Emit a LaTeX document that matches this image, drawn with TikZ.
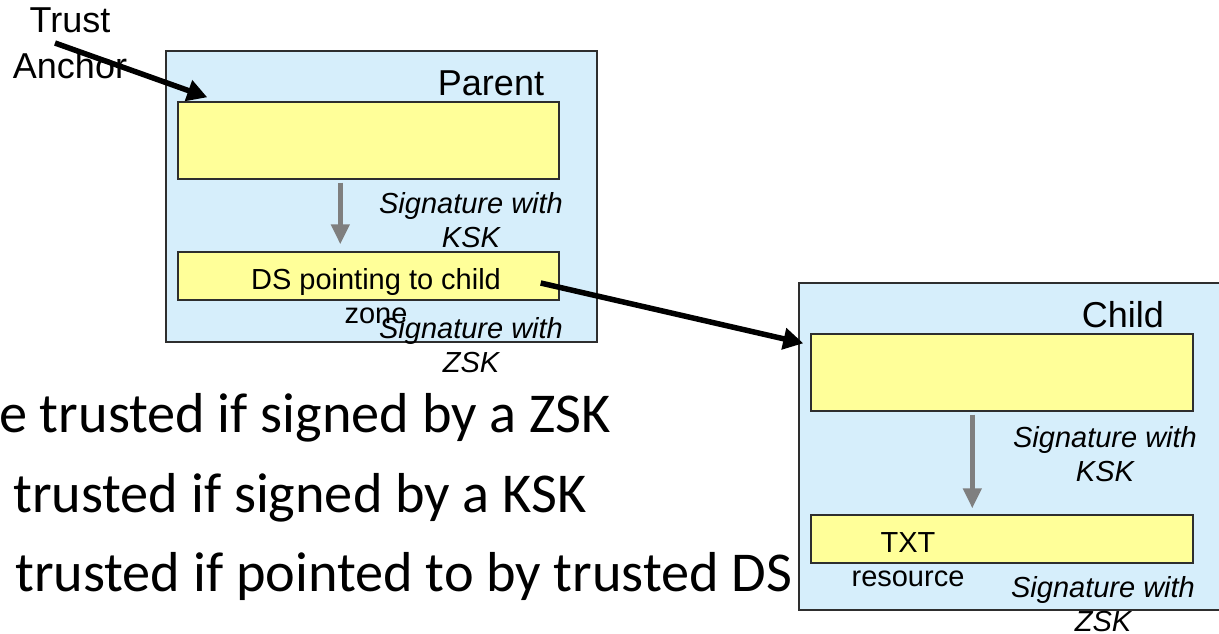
\documentclass[tikz,border=0pt]{standalone}
\usepackage{fontspec}
\setmainfont{Liberation Sans}
\newfontfamily\bodyfont{Carlito}
\usetikzlibrary{arrows.meta,calc}

\definecolor{zonefill}{HTML}{D6EEFB}
\definecolor{recfill}{HTML}{FFFF99}
\definecolor{edgegray}{HTML}{2E2E2E}
\definecolor{siggray}{HTML}{7F7F7F}

\tikzset{
  zonebox/.style={draw=edgegray, fill=zonefill, line width=1.4pt, inner sep=0pt},
  recbox/.style={draw=edgegray, fill=recfill, line width=1.4pt, inner sep=0pt},
  title/.style={font=\fontsize{36}{42}\selectfont, inner sep=0pt, anchor=base},
  lbl/.style={font=\fontsize{29}{34}\selectfont, inner sep=0pt, align=center, anchor=north},
  siglbl/.style={font=\fontsize{29}{34}\selectfont\itshape, inner sep=0pt, align=center, anchor=north},
  sigarrow/.style={draw=siggray, line width=4.5pt, -{Triangle[length=20pt,width=18pt]}},
  linkarrow/.style={draw=black, line width=5.5pt, -{Triangle[length=20pt,width=21pt]}},
  bullet/.style={font=\bodyfont\fontsize{56.3}{66}\selectfont, inner sep=0pt, anchor=base west},
}

\begin{document}
\begin{tikzpicture}[x=1pt, y=-1pt]
  \useasboundingbox (0,0) rectangle (1219,633);

  % Bullet text
  \node[bullet] (b1) at (-1,432) {e trusted if signed by a ZSK};
  \node[bullet] (b2) at (13,512) {trusted if signed by a KSK};
  \node[bullet] (b3) at (15,591) {trusted if pointed to by trusted DS};

  % Parent zone
  \node[zonebox, minimum width=431pt, minimum height=291pt] (parent) at (381.5,196.5) {};
  \node[title] (ptitle) at (491,95) {Parent};
  \node[recbox, minimum width=381pt, minimum height=77pt] (pkey) at (368.5,140.5) {};
  \node[recbox, minimum width=381pt, minimum height=48pt] (pds) at (368.5,276) {};
  \node[lbl] (pdstext) at (376,268) {DS pointing to child\\zone};
  \node[siglbl] (pksk) at (471,192) {Signature with\\KSK};
  \node[siglbl] (pzsk) at (471,317) {Signature with\\ZSK};
  \draw[sigarrow] ($(pkey.south west)+(163,3)$) -- ($(pds.north west)+(163,-7)$);

  % Child zone
  \node[zonebox, minimum width=431pt, minimum height=327pt] (child) at (1014.5,446.5) {};
  \node[title] (ctitle) at (1123,327) {Child};
  \node[recbox, minimum width=382pt, minimum height=77pt] (ckey) at (1002,372.5) {};
  \node[recbox, minimum width=382pt, minimum height=48pt] (ctxt) at (1002,539) {};
  \node[lbl] (ctxttext) at (908,532) {TXT\\resource};
  \node[siglbl] (cksk) at (1105,426) {Signature with\\KSK};
  \node[siglbl] (czsk) at (1103,576) {Signature with\\ZSK};
  \draw[sigarrow] ($(ckey.south west)+(162,3)$) -- ($(ctxt.north west)+(162,-6)$);

  % Trust anchor
  \node[font=\fontsize{36}{46}\selectfont, inner sep=0pt, align=center, anchor=north] (anchor) at (70,8) {Trust\\Anchor};
  \coordinate (anchortail) at (55,43);
  \draw[linkarrow] (anchortail) -- ($(pkey.north west)+(30,-4)$);

  % Delegation from parent DS to child
  \coordinate (dsstart) at ($(pds.east)+(-19,7)$);
  \draw[linkarrow] (dsstart) -- ($(ckey.north west)+(-7,10)$);
\end{tikzpicture}
\end{document}
